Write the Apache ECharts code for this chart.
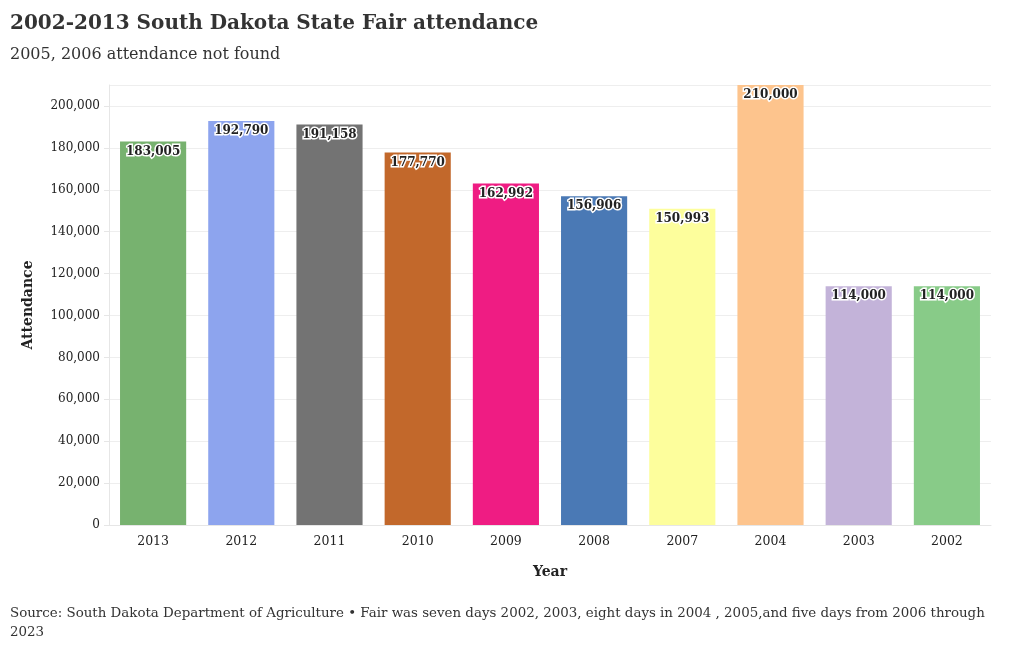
<!DOCTYPE html>
<html><head><meta charset="utf-8">
<script src="https://cdn.jsdelivr.net/npm/echarts@6/dist/echarts.min.js"></script>
<style>html,body{margin:0;padding:0;background:#fff}#c{width:1020px;height:650px}</style>
</head><body><div id="c"></div>
<script>
const years = ['2013','2012','2011','2010','2009','2008','2007','2004','2003','2002'];
const attendance = [183005,192790,191158,177770,162992,156906,150993,210000,114000,114000];
const barColors = ['#77b26f','#8da4ee','#737373','#c2682b','#ef1c83','#4a79b5','#fdfe9c','#fdc48d','#c3b3d9','#88cb88'];
const yTicks = [0,20000,40000,60000,80000,100000,120000,140000,160000,180000,200000];

const FONT = '"DejaVu Serif", "Liberation Serif", serif';
const chart = echarts.init(document.getElementById('c'));
chart.setOption({
  animation: false,
  title: [
    {text: '2002-2013 South Dakota State Fair attendance', left: 5, top: 9,
     textStyle: {fontFamily: FONT, fontSize: 20, fontWeight: 'bold', color: '#333'}},
    {text: '2005, 2006 attendance not found', left: 5, top: 42,
     textStyle: {fontFamily: FONT, fontSize: 16, fontWeight: 'normal', color: '#333'}},
    {text: 'Source: South Dakota Department of Agriculture • Fair was seven days 2002, 2003, eight days in 2004 , 2005,and five days from 2006 through 2023',
     left: 5, top: 599,
     textStyle: {fontFamily: FONT, fontSize: 13.4, fontWeight: 'normal', color: '#333', width: 990, overflow: 'break', lineHeight: 19}}
  ],
  grid: {left: 109, right: 29, top: 85, bottom: 125},
  xAxis: {
    type: 'category', data: years,
    name: 'Year', nameLocation: 'middle', nameGap: 40,
    nameTextStyle: {fontFamily: FONT, fontSize: 14, fontWeight: 'bold', color: '#222'},
    axisLine: {lineStyle: {color: '#e6e6e6'}},
    axisTick: {show: false},
    axisLabel: {fontFamily: FONT, fontSize: 12.5, color: '#222', margin: 10}
  },
  yAxis: {
    type: 'value', min: 0, max: 210000, interval: 20000,
    name: 'Attendance', nameLocation: 'middle', nameGap: 74, nameRotate: 90,
    nameTextStyle: {fontFamily: FONT, fontSize: 14, fontWeight: 'bold', color: '#222'},
    axisLine: {show: true, lineStyle: {color: '#e6e6e6'}},
    axisTick: {show: true, length: 5, lineStyle: {color: '#e6e6e6'}},
    splitLine: {lineStyle: {color: '#eeeeee'}},
    axisLabel: {fontFamily: FONT, fontSize: 12, color: '#222', margin: 9,
      showMaxLabel: false,
      formatter: v => yTicks.includes(v) ? v.toLocaleString('en-US') : ''}
  },
  series: [{
    type: 'bar', barWidth: '75%',
    data: attendance.map((v, i) => ({value: v, itemStyle: {color: barColors[i]}})),
    label: {show: true, position: 'insideTop', distance: 4,
      fontFamily: FONT, fontSize: 12, fontWeight: 'bold', color: '#222',
      textBorderColor: '#fff', textBorderWidth: 3,
      formatter: p => p.value.toLocaleString('en-US')}
  }]
});
</script></body></html>
